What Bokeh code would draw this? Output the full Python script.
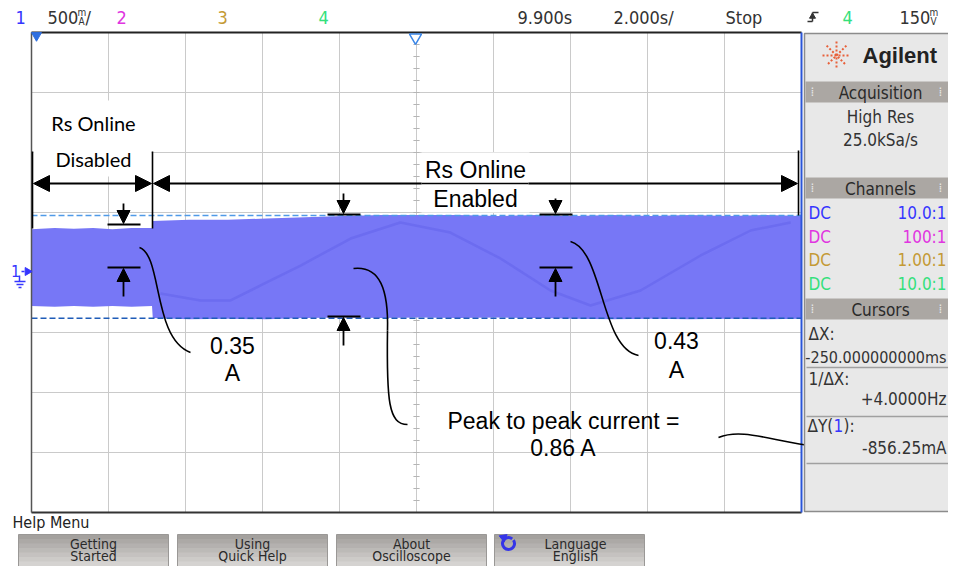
import math
from bokeh.plotting import figure
from bokeh.models import Range1d, Arrow, NormalHead
from bokeh.core.properties import value
from bokeh.embed import file_html
from bokeh.resources import INLINE

# ---------------- data ----------------
# time in s (2.000 s/div, centre 9.900 s), current in A (500 mA/div)
grid_t = [-0.1, 1.9, 3.9, 5.9, 7.9, 9.9, 11.9, 13.9, 15.9, 17.9, 19.9]
grid_a = [-2.0, -1.5, -1.0, -0.5, 0.0, 0.5, 1.0, 1.5, 2.0]

band_t = [-0.1, 0.5, 1.0, 1.5, 2.0, 2.5, 3.03, 3.05, 4.0, 5.0, 6.0, 7.0, 8.0,
          9.0, 10.0, 11.0, 12.0, 13.0, 14.0, 15.0, 16.0, 17.0, 18.0, 19.0, 19.9]
band_top = [0.36, 0.37, 0.365, 0.37, 0.36, 0.37, 0.37, 0.43, 0.44, 0.44, 0.45, 0.46, 0.47,
            0.48, 0.48, 0.48, 0.47, 0.48, 0.47, 0.48, 0.47, 0.48, 0.47, 0.48, 0.47]
band_bot = [-0.28, -0.285, -0.28, -0.285, -0.28, -0.285, -0.28, -0.38, -0.39, -0.385, -0.39,
            -0.38, -0.375, -0.38, -0.375, -0.38, -0.375, -0.38, -0.385, -0.39, -0.385, -0.39,
            -0.385, -0.39, -0.385]

trace_t = [3.25, 4.29, 5.07, 5.85, 6.89, 8.19, 9.48, 10.78, 12.08, 13.38, 14.42, 15.72, 17.28, 18.58, 19.62]
trace_a = [-0.175, -0.233, -0.233, -0.108, 0.058, 0.283, 0.417, 0.333, 0.117, -0.15, -0.275, -0.15,
           0.142, 0.35, 0.417]

cursor_a = [0.475, -0.381]

top_items = ["1", "2", "3", "4"]
top_colors = ["#3535ff", "#e035e0", "#c49a35", "#35e07c"]
chan_coupling = ["DC", "DC", "DC", "DC"]
chan_probe = ["10.0:1", "100:1", "1.00:1", "10.0:1"]
buttons = [("Getting", "Started"), ("Using", "Quick Help"), ("About", "Oscilloscope"), ("Language", "English")]

# ---------------- figure ----------------
W, H = 948, 566
PX_PER_S = 38.5
PX_PER_A = 120.0
t_lo = -0.1 - 31 / PX_PER_S
t_hi = -0.1 + (W - 31) / PX_PER_S
a_hi = 272 / PX_PER_A
a_lo = (272 - H) / PX_PER_A

p = figure(width=W, height=H, x_range=Range1d(t_lo, t_hi), y_range=Range1d(a_lo, a_hi),
           output_backend="svg", toolbar_location=None, x_axis_type=None, y_axis_type=None,
           min_border=0, min_border_left=0, min_border_right=0, min_border_top=0, min_border_bottom=0)
p.outline_line_color = None
p.background_fill_color = "white"
p.border_fill_color = "white"
p.extra_x_ranges = {"px": Range1d(0, W)}
p.extra_y_ranges = {"px": Range1d(H, 0)}

NARROW = "DejaVu Sans Condensed"
ARIAL = "Liberation Sans"
PXR = dict(x_range_name="px", y_range_name="px")


def txt(x, y, s, size=17, color="#222222", font=NARROW, align="left", base="middle", style="normal"):
    p.text(x=[x], y=[y], text=[s], text_font=value(font), text_font_size=value(f"{size}px"),
           text_color=color, text_align=align, text_baseline=base, text_font_style=style, **PXR)


def seg(x0, y0, x1, y1, color="black", width=1.6, dash="solid"):
    p.segment(x0=[x0], y0=[y0], x1=[x1], y1=[y1], line_color=color, line_width=width,
              line_dash=dash, **PXR)


def arrow(x0, y0, x1, y1, size=13, both=False, width=1.8):
    head = lambda: NormalHead(size=size, fill_color="black", line_color="black")
    p.add_layout(Arrow(start=head() if both else None, end=head(), x_start=x0, y_start=y0,
                       x_end=x1, y_end=y1, line_width=width, line_color="black", **PXR))


# ---------------- graticule ----------------
p.segment(x0=grid_t, y0=[grid_a[0]] * len(grid_t), x1=grid_t, y1=[grid_a[-1]] * len(grid_t),
          line_color="#cacaca", line_width=1)
p.segment(x0=[grid_t[0]] * len(grid_a), y0=grid_a, x1=[grid_t[-1]] * len(grid_a), y1=grid_a,
          line_color="#cacaca", line_width=1)
mt_a = [grid_a[0] + 0.1 * k for k in range(41)]
p.segment(x0=[grid_t[5] - 0.08] * len(mt_a), y0=mt_a, x1=[grid_t[5] + 0.08] * len(mt_a), y1=mt_a,
          line_color="#b5b5b5", line_width=1)
mt_t = [grid_t[0] + 0.4 * k for k in range(51)]
p.segment(x0=mt_t, y0=[-0.025] * len(mt_t), x1=mt_t, y1=[0.025] * len(mt_t),
          line_color="#b5b5b5", line_width=1)

# ---------------- waveform ----------------
p.varea(x=band_t, y1=band_bot, y2=band_top, fill_color="#7777f6", fill_alpha=1.0)
p.line(trace_t, trace_a, line_color="#4a4ae0", line_width=2.5, line_alpha=0.25)
p.line([grid_t[0], grid_t[-1]], [cursor_a[0]] * 2, line_color="#4f9ae8", line_width=1.6, line_dash="6 3")
p.line([grid_t[0], grid_t[-1]], [cursor_a[1]] * 2, line_color="#1f5cb8", line_width=1.6, line_dash="6 3")

# frame edges
p.line([grid_t[0], grid_t[-1]], [grid_a[-1]] * 2, line_color="#222222", line_width=2)
p.line([grid_t[0], grid_t[-1]], [grid_a[0]] * 2, line_color="#333333", line_width=2)
p.line([grid_t[0]] * 2, [grid_a[0], grid_a[-1]], line_color="#555555", line_width=1.5)
p.line([grid_t[-1]] * 2, [grid_a[0], grid_a[-1]], line_color="#2a55d8", line_width=2)

# ---------------- annotations ----------------
p.quad(left=[33], right=[151], top=[100], bottom=[176], fill_color="white", line_color=None, **PXR)
p.quad(left=[421], right=[529], top=[152], bottom=[212], fill_color="white", line_color=None, **PXR)

txt(93, 122, "Rs Online", 20, "black", "Lato", "center")
txt(93, 158, "Disabled", 20, "black", "Lato", "center")
txt(475, 169, "Rs Online", 23, "black", ARIAL, "center")
txt(475, 198, "Enabled", 23, "black", ARIAL, "center")

seg(32, 151, 32, 228)
seg(152, 151, 152, 228)
seg(798, 150, 798, 215)
arrow(33, 183, 151, 183, 16, True)
arrow(421, 183, 153, 183, 16)
seg(421, 183, 528, 183)
arrow(528, 183, 797, 183, 16)

for (xc, ytop, ybot, ya0, yb1) in [(123, 224, 267, 203, 296), (343, 214, 316, 193, 345), (555, 214, 267, 198, 296)]:
    seg(xc - 16, ytop, xc + 17, ytop, width=2)
    arrow(xc, ya0, xc, ytop - 1, 13)
    seg(xc - 16, ybot, xc + 17, ybot, width=2)
    arrow(xc, yb1, xc, ybot + 1, 13)

bz = dict(line_color="black", line_width=1.6, **PXR)
p.bezier(x0=[139], y0=[247], x1=[190], y1=[352], cx0=[162], cy0=[255], cx1=[152], cy1=[338], **bz)
p.bezier(x0=[353], y0=[268], x1=[387], y1=[330], cx0=[380], cy0=[265], cx1=[388], cy1=[290], **bz)
p.bezier(x0=[387], y0=[330], x1=[407], y1=[424], cx0=[386], cy0=[400], cx1=[388], cy1=[424], **bz)
p.bezier(x0=[570], y0=[241], x1=[638], y1=[355], cx0=[603], cy0=[250], cx1=[600], cy1=[348], **bz)
p.bezier(x0=[718], y0=[437], x1=[872], y1=[448], cx0=[750], cy0=[424], cx1=[790], cy1=[452], **bz)

txt(232, 345, "0.35", 23, "black", ARIAL, "center")
txt(232, 372, "A", 23, "black", ARIAL, "center")
txt(676, 340, "0.43", 23, "black", ARIAL, "center")
txt(676, 369, "A", 23, "black", ARIAL, "center")
txt(563, 420, "Peak to peak current =", 23, "black", ARIAL, "center")
txt(563, 447, "0.86 A", 23, "black", ARIAL, "center")

# channel-1 ground marker
txt(15, 270, top_items[0], 16, top_colors[0], NARROW, "center")
p.scatter(x=[27], y=[271], marker="triangle", angle=-1.5708, size=8, fill_color=top_colors[0],
          line_color=top_colors[0], **PXR)
seg(21, 271, 24, 271, top_colors[0], 1.5)
seg(19, 275, 19, 281, top_colors[0], 1.5)
seg(14, 281, 25, 281, top_colors[0], 1.5)
seg(16, 284, 23, 284, top_colors[0], 1.5)
seg(18, 287, 21, 287, top_colors[0], 1.5)

# ---------------- top status line ----------------
txt(15, 17, top_items[0], 18, top_colors[0])
txt(47, 17, "500", 18, "#333333")
txt(77, 12, "m", 10, "#333333")
txt(78, 21, "A", 10, "#333333")
txt(85, 17, "/", 18, "#333333")
txt(116, 17, top_items[1], 18, top_colors[1])
txt(217, 17, top_items[2], 18, top_colors[2])
txt(318, 17, top_items[3], 18, top_colors[3])
txt(517, 17, "9.900s", 18, "#333333")
txt(613, 17, "2.000s/", 18, "#333333")
txt(725, 17, "Stop", 18, "#333333")
seg(807, 21, 812, 21, "#333333", 1.5)
seg(812, 21, 812, 12, "#333333", 1.5)
seg(812, 12, 818, 12, "#333333", 1.5)
p.scatter(x=[812], y=[16], marker="triangle", size=6, fill_color="#333333", line_color="#333333", **PXR)
txt(842, 17, top_items[3], 18, top_colors[3])
txt(899, 17, "150", 18, "#333333")
txt(929, 12, "m", 10, "#333333")
txt(930, 21, "V", 10, "#333333")
p.scatter(x=[36], y=[35], marker="inverted_triangle", size=10, fill_color="#2f6fe0", line_color="#2f6fe0", **PXR)
p.scatter(x=[415], y=[37], marker="inverted_triangle", size=12, fill_color="white", line_color="#3a86e8",
          line_width=1.5, **PXR)

# ---------------- right side panel ----------------
p.quad(left=[804], right=[970], top=[33], bottom=[511], fill_color="#e8e8e8", line_color="#8c8c8c",
       line_width=1.5, **PXR)
for ang in (0, 0.785, 1.571, 2.356):
    dx, dy = 14 * math.cos(ang), 14 * math.sin(ang)
    seg(836 - dx, 55 - dy, 836 + dx, 55 + dy, "#e8603a", 2, "2 2")
txt(862, 55, "Agilent", 22, "#222222", ARIAL, "left", "middle", "bold")

hdr_rows = [("Acquisition", 81, 102), ("Channels", 177, 198), ("Cursors", 298, 319)]
for name, yt, yb in hdr_rows:
    p.quad(left=[805], right=[970], top=[yt], bottom=[yb], fill_color="#aba7a3", line_color=None, **PXR)
    txt(880, (yt + yb) / 2 + 1, name, 17, "#2a2a2a", NARROW, "center")
    txt(812, (yt + yb) / 2, "⁞", 12, "#e8e8e8", "DejaVu Sans", "center")
    txt(940, (yt + yb) / 2, "⁞", 12, "#e8e8e8", "DejaVu Sans", "center")

txt(880, 116, "High Res", 17, "#333333", NARROW, "center")
txt(880, 139, "25.0kSa/s", 17, "#333333", NARROW, "center")
for i, yc in enumerate([212, 236, 259, 283]):
    txt(808, yc, chan_coupling[i], 17, top_colors[i])
    txt(946, yc, chan_probe[i], 17, top_colors[i], NARROW, "right")

txt(808, 333, "ΔX:", 17, "#333333")
txt(946, 357, "-250.000000000ms", 16, "#333333", NARROW, "right")
seg(806, 367, 962, 367, "#a0a0a0", 1.5)
txt(808, 378, "1/ΔX:", 17, "#333333")
txt(946, 398, "+4.0000Hz", 17, "#333333", NARROW, "right")
seg(806, 416, 962, 416, "#a0a0a0", 1.5)
txt(807, 425, "ΔY(", 17, "#333333")
txt(833, 425, top_items[0], 17, top_colors[0])
txt(843, 425, "):", 17, "#333333")
txt(946, 447, "-856.25mA", 17, "#333333", NARROW, "right")
seg(806, 463, 962, 463, "#a0a0a0", 1.5)

# ---------------- bottom softkeys ----------------
txt(12, 522, "Help Menu", 16, "#222222")
bx = [(18, 168), (177, 327), (336, 486), (494, 644)]
n_strip = 8
c_top, c_bot = (164, 161, 158), (222, 220, 218)
b_top = 534
for (l, r), (t1, t2) in zip(bx, buttons):
    for k in range(n_strip):
        f = k / (n_strip - 1)
        col = "#%02x%02x%02x" % tuple(int(c_top[j] + (c_bot[j] - c_top[j]) * f) for j in range(3))
        y_a = b_top + k * (36 / n_strip)
        p.quad(left=[l], right=[r], top=[y_a], bottom=[y_a + 36 / n_strip + 0.5], fill_color=col,
               line_color=None, **PXR)
    p.quad(left=[l], right=[r], top=[b_top], bottom=[590], fill_color=None, line_color="#9a9896",
           line_width=1, **PXR)
    cx = (l + r) / 2 + (6 if t1 == "Language" else 0)
    txt(cx, 543, t1, 14, "#2a2a2a", NARROW, "center")
    txt(cx, 555, t2, 14, "#2a2a2a", NARROW, "center")

p.arc(x=[508], y=[543], radius=6, radius_units="screen", start_angle=0.9, end_angle=6.9,
      line_color="#3535e8", line_width=3, **PXR)
p.scatter(x=[503], y=[537], marker="triangle", angle=1.2, size=8, fill_color="#3535e8",
          line_color="#3535e8", **PXR)

open("out.html", "w").write(file_html(p, INLINE))
